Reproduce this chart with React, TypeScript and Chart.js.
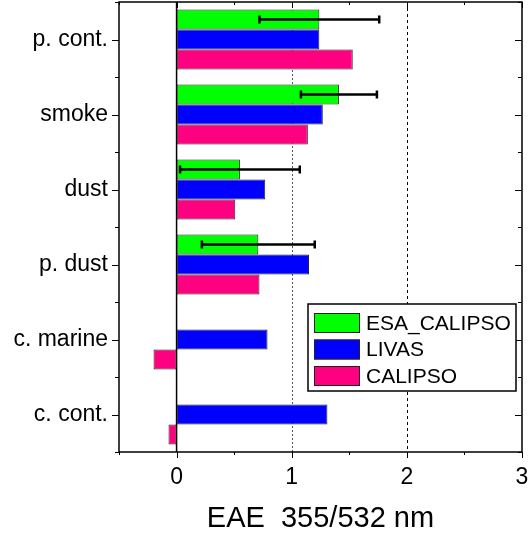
import { useEffect, useRef } from 'react';
import { Chart, registerables } from 'chart.js';

Chart.register(...registerables);

// Aerosol types, listed top to bottom
const categories = ['p. cont.', 'smoke', 'dust', 'p. dust', 'c. marine', 'c. cont.'];

// Extinction Angstrom exponent 355/532 nm per dataset
const esaCalipso: (number | null)[] = [1.24, 1.41, 0.55, 0.71, null, null];
const esaCalipsoErr: (number | null)[] = [0.52, 0.33, 0.52, 0.49, null, null];
const livas: number[] = [1.24, 1.27, 0.77, 1.15, 0.79, 1.31];
const calipso: number[] = [1.53, 1.14, 0.51, 0.72, -0.2, -0.07];

const seriesNames = ['ESA_CALIPSO', 'LIVAS', 'CALIPSO'];
const seriesColors = ['#00ff00', '#0000ff', '#ff0080'];

// x axis range and tick spacing
const xMin = -0.5;
const xMax = 3;
const xStep = 0.5;
const xTitle = 'EAE  355/532 nm';

const FONT = "'Liberation Sans', Arial, sans-serif";

// Reference lines, error bars, frame with mirrored ticks, and the boxed legend
const decorations = {
  id: 'decorations',
  beforeDatasetsDraw(chart: any) {
    const { ctx, chartArea } = chart;
    const xs = chart.scales.x;
    ctx.save();
    // dotted grey line at 1
    ctx.strokeStyle = '#555';
    ctx.lineWidth = 1;
    ctx.setLineDash([2, 2]);
    let px = Math.round(xs.getPixelForValue(1)) + 0.5;
    ctx.beginPath();
    ctx.moveTo(px, chartArea.top);
    ctx.lineTo(px, chartArea.bottom);
    ctx.stroke();
    // dashed black line at 2
    ctx.strokeStyle = '#000';
    ctx.setLineDash([3, 3]);
    px = Math.round(xs.getPixelForValue(2)) + 0.5;
    ctx.beginPath();
    ctx.moveTo(px, chartArea.top);
    ctx.lineTo(px, chartArea.bottom);
    ctx.stroke();
    ctx.restore();
  },
  afterDatasetsDraw(chart: any) {
    const { ctx, chartArea } = chart;
    const xs = chart.scales.x;
    ctx.save();
    // zero line
    ctx.strokeStyle = '#000';
    ctx.lineWidth = 1.5;
    const x0 = xs.getPixelForValue(0);
    ctx.beginPath();
    ctx.moveTo(x0, chartArea.top);
    ctx.lineTo(x0, chartArea.bottom);
    ctx.stroke();

    // error bars on the first dataset
    const meta = chart.getDatasetMeta(0);
    ctx.lineWidth = 2.5;
    esaCalipso.forEach((v, i) => {
      const e = esaCalipsoErr[i];
      if (v == null || e == null) return;
      const el = meta.data[i];
      const y = el.y;
      const xa = xs.getPixelForValue(v - e);
      const xb = xs.getPixelForValue(v + e);
      ctx.beginPath();
      ctx.moveTo(xa, y);
      ctx.lineTo(xb, y);
      ctx.moveTo(xa, y - 4);
      ctx.lineTo(xa, y + 4);
      ctx.moveTo(xb, y - 4);
      ctx.lineTo(xb, y + 4);
      ctx.stroke();
    });
    ctx.restore();
  },
  afterDraw(chart: any) {
    const { ctx, chartArea } = chart;
    const { left, right, top, bottom } = chartArea;
    const xs = chart.scales.x;
    const ys = chart.scales.y;
    ctx.save();
    ctx.strokeStyle = '#000';
    ctx.lineWidth = 1.5;
    ctx.setLineDash([]);
    ctx.strokeRect(left, top, right - left, bottom - top);

    ctx.lineWidth = 1;
    // x ticks: outer on bottom, inner on top
    for (let v = xMin; v <= xMax + 1e-9; v += xStep) {
      const px = Math.round(xs.getPixelForValue(v)) + 0.5;
      const major = Math.abs(v - Math.round(v)) < 1e-9;
      const len = major ? 6 : 3;
      ctx.beginPath();
      ctx.moveTo(px, bottom);
      ctx.lineTo(px, bottom + len);
      ctx.moveTo(px, top);
      ctx.lineTo(px, top + len);
      ctx.stroke();
    }
    // y ticks: major at categories, minor between them
    const n = categories.length;
    for (let i = 0; i < n; i++) {
      const py = Math.round(ys.getPixelForValue(i)) + 0.5;
      ctx.beginPath();
      ctx.moveTo(left - 7, py);
      ctx.lineTo(left, py);
      ctx.moveTo(right, py);
      ctx.lineTo(right - 7, py);
      ctx.stroke();
    }
    for (let i = 0; i <= n; i++) {
      const py = Math.round(ys.getPixelForValue(i - 0.5)) + 0.5;
      ctx.beginPath();
      ctx.moveTo(left - 4, py);
      ctx.lineTo(left, py);
      ctx.moveTo(right, py);
      ctx.lineTo(right - 4, py);
      ctx.stroke();
    }

    // legend box
    const bx = 308;
    const by = 304;
    const bw = 208;
    const bh = 87;
    ctx.fillStyle = '#fff';
    ctx.fillRect(bx, by, bw, bh);
    ctx.lineWidth = 1.5;
    ctx.strokeRect(bx, by, bw, bh);
    ctx.font = `21px ${FONT}`;
    ctx.textBaseline = 'middle';
    ctx.textAlign = 'left';
    chart.data.datasets.forEach((ds: any, i: number) => {
      const sy = by + 9 + i * 26.5;
      ctx.fillStyle = ds.backgroundColor;
      ctx.fillRect(bx + 6, sy, 46, 20);
      ctx.lineWidth = 1;
      ctx.strokeStyle = '#222';
      ctx.strokeRect(bx + 6.5, sy + 0.5, 45, 19);
      ctx.fillStyle = '#000';
      ctx.fillText(ds.label, bx + 58, sy + 11);
    });
    ctx.restore();
  },
};

export default function App() {
  const canvasRef = useRef<HTMLCanvasElement | null>(null);

  useEffect(() => {
    document.body.style.margin = '0';
    const canvas = canvasRef.current;
    if (!canvas) return;
    const datasets = [esaCalipso, livas, calipso].map((data, i) => ({
      label: seriesNames[i],
      data,
      backgroundColor: seriesColors[i],
      borderColor: '#222',
      borderWidth: 1,
      borderSkipped: false,
      categoryPercentage: 0.8,
      barPercentage: 1.0,
    }));
    const chart = new Chart(canvas, {
      type: 'bar',
      data: { labels: categories, datasets },
      options: {
        indexAxis: 'y',
        responsive: false,
        animation: false,
        devicePixelRatio: 1,
        layout: { padding: { top: 2, right: 10, left: 0, bottom: 0 } },
        plugins: {
          legend: { display: false },
          tooltip: { enabled: false },
        },
        scales: {
          x: {
            type: 'linear',
            min: xMin,
            max: xMax,
            grid: { display: false, drawTicks: false },
            border: { display: false },
            ticks: {
              stepSize: xStep,
              color: '#000',
              font: { family: FONT, size: 23 },
              padding: 12,
              maxRotation: 0,
              autoSkip: false,
              callback: (v: any) => (Number.isInteger(Number(v)) ? String(v) : ''),
            },
            title: {
              display: true,
              text: xTitle,
              color: '#000',
              font: { family: FONT, size: 29 },
              padding: { top: 8, bottom: 3 },
            },
            afterFit: (scale: any) => {
              scale.height = 87;
              scale.paddingLeft = 0;
              scale.paddingRight = 0;
            },
          },
          y: {
            type: 'category',
            grid: { display: false, drawTicks: false },
            border: { display: false },
            ticks: {
              color: '#000',
              font: { family: FONT, size: 23 },
              padding: 11,
              autoSkip: false,
            },
            afterFit: (scale: any) => {
              scale.width = 119;
              scale.paddingTop = 0;
              scale.paddingBottom = 0;
            },
          },
        },
      },
      plugins: [decorations],
    });
    return () => chart.destroy();
  }, []);

  return <canvas ref={canvasRef} width={532} height={539} />;
}
